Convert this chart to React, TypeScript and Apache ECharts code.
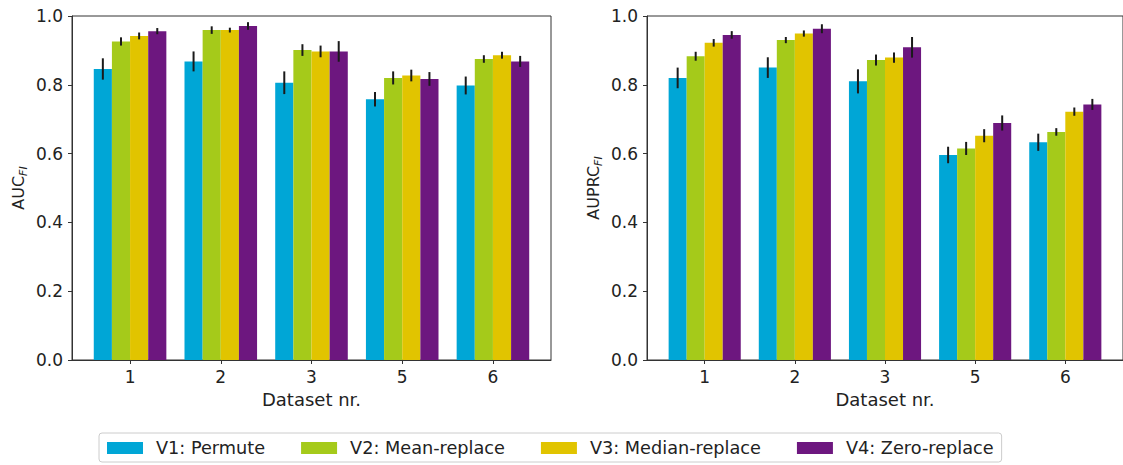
import React, { useEffect, useRef } from "react";
import * as echarts from "echarts";

const categories = ["1", "2", "3", "5", "6"];
const seriesNames = ["V1: Permute", "V2: Mean-replace", "V3: Median-replace", "V4: Zero-replace"];
const colors = ["#00A6D6", "#A5CA1A", "#E1C400", "#6D177F"];

// AUC_FI means and error half-widths
const aucV1 = [0.846, 0.868, 0.806, 0.758, 0.798];
const aucV2 = [0.926, 0.959, 0.901, 0.820, 0.875];
const aucV3 = [0.942, 0.959, 0.897, 0.827, 0.886];
const aucV4 = [0.956, 0.971, 0.897, 0.817, 0.868];
const aucErrV1 = [0.031, 0.029, 0.033, 0.021, 0.026];
const aucErrV2 = [0.012, 0.011, 0.017, 0.019, 0.011];
const aucErrV3 = [0.010, 0.007, 0.017, 0.017, 0.010];
const aucErrV4 = [0.009, 0.011, 0.030, 0.020, 0.016];

// AUPRC_FI means and error half-widths
const auprcV1 = [0.820, 0.850, 0.810, 0.596, 0.633];
const auprcV2 = [0.883, 0.930, 0.872, 0.615, 0.663];
const auprcV3 = [0.922, 0.949, 0.879, 0.652, 0.722];
const auprcV4 = [0.945, 0.963, 0.909, 0.689, 0.743];
const auprcErrV1 = [0.030, 0.030, 0.035, 0.024, 0.025];
const auprcErrV2 = [0.013, 0.009, 0.016, 0.019, 0.011];
const auprcErrV3 = [0.011, 0.009, 0.015, 0.019, 0.012];
const auprcErrV4 = [0.011, 0.013, 0.030, 0.022, 0.016];

const panels = [
  { label: "AUC", means: [aucV1, aucV2, aucV3, aucV4], errs: [aucErrV1, aucErrV2, aucErrV3, aucErrV4] },
  { label: "AUPRC", means: [auprcV1, auprcV2, auprcV3, auprcV4], errs: [auprcErrV1, auprcErrV2, auprcErrV3, auprcErrV4] },
];

const FONT = "DejaVu Sans";
const AX = "#333333";

export default function App() {
  const ref = useRef<HTMLDivElement>(null);
  useEffect(() => {
    if (!ref.current) return;
    const chart = echarts.init(ref.current, null, { renderer: "svg" });
    const catIdx = categories.map((_, i) => i);
    const barSlot = 0.2; // each bar is 0.2 of category spacing (4 bars, 80% group)

    const grids = [
      { left: 72, top: 16, width: 479, height: 344 },
      { left: 647, top: 16, width: 479, height: 344 },
    ].map((g) => ({ ...g, show: true, borderColor: AX, borderWidth: 1, backgroundColor: "transparent" }));

    const xAxes = grids.map((_, gi) => ({
      type: "value",
      gridIndex: gi,
      min: -0.64,
      max: 4.64,
      name: "Dataset nr.",
      nameLocation: "middle",
      nameGap: 30,
      nameTextStyle: { fontFamily: FONT, fontSize: 18, color: "#222" },
      axisLine: { show: true, onZero: false, lineStyle: { color: AX, width: 1 } },
      axisTick: { show: true, customValues: catIdx, length: 4, lineStyle: { color: AX } },
      axisLabel: {
        customValues: catIdx,
        formatter: (v: number) => categories[Math.round(v)],
        fontFamily: FONT,
        fontSize: 17,
        color: "#222",
        margin: 8,
      },
      splitLine: { show: false },
    }));

    const yAxes = panels.map((p, gi) => ({
      type: "value",
      gridIndex: gi,
      min: 0,
      max: 1,
      interval: 0.2,
      name: `{main|${p.label}}{sub|FI}`,
      nameLocation: "middle",
      nameGap: 46,
      nameTextStyle: {
        rich: {
          main: { fontFamily: FONT, fontSize: 16, color: "#222" },
          sub: { fontFamily: FONT, fontSize: 11, fontStyle: "italic", color: "#222", verticalAlign: "bottom", padding: [0, 0, -3, 0] },
        },
      },
      axisLine: { show: true, onZero: false, lineStyle: { color: AX, width: 1 } },
      axisTick: { show: true, length: 4, lineStyle: { color: AX } },
      axisLabel: {
        formatter: (v: number) => v.toFixed(1),
        fontFamily: FONT,
        fontSize: 17,
        color: "#222",
        margin: 9,
      },
      splitLine: { show: false },
    }));

    const series: any[] = [];
    panels.forEach((p, gi) => {
      p.means.forEach((vals, k) => {
        series.push({
          type: "bar",
          name: seriesNames[k],
          xAxisIndex: gi,
          yAxisIndex: gi,
          data: vals.map((v, i) => [i, v]),
          barGap: "0%",
          barCategoryGap: "20%",
          itemStyle: { color: colors[k] },
          z: 2,
        });
      });
      p.means.forEach((vals, k) => {
        series.push({
          type: "custom",
          xAxisIndex: gi,
          yAxisIndex: gi,
          data: vals.map((v, i) => [i, v, p.errs[k][i]]),
          encode: { x: 0, y: 1 },
          z: 5,
          renderItem: (params: any, api: any) => {
            const x = api.value(0) + (k - 1.5) * barSlot;
            const m = api.value(1);
            const e = api.value(2);
            const a = api.coord([x, m - e]);
            const b = api.coord([x, m + e]);
            return {
              type: "line",
              shape: { x1: a[0], y1: a[1], x2: b[0], y2: b[1] },
              style: { stroke: "#1a1a1a", lineWidth: 2 },
            };
          },
        });
      });
    });

    chart.setOption({
      animation: false,
      backgroundColor: "#ffffff",
      grid: grids,
      xAxis: xAxes,
      yAxis: yAxes,
      legend: {
        data: seriesNames,
        orient: "horizontal",
        left: 99,
        top: 433,
        padding: [6, 8, 5, 8],
        itemGap: 36,
        itemWidth: 36,
        itemHeight: 12,
        borderColor: "#cccccc",
        borderWidth: 1,
        borderRadius: 3,
        icon: "rect",
        textStyle: { fontFamily: FONT, fontSize: 17.7, color: "#222", padding: [0, 0, 0, 8] },
      },
      series,
    });
    return () => chart.dispose();
  }, []);
  return <div ref={ref} style={{ position: "fixed", left: 0, top: 0, width: 1123, height: 465 }} />;
}
